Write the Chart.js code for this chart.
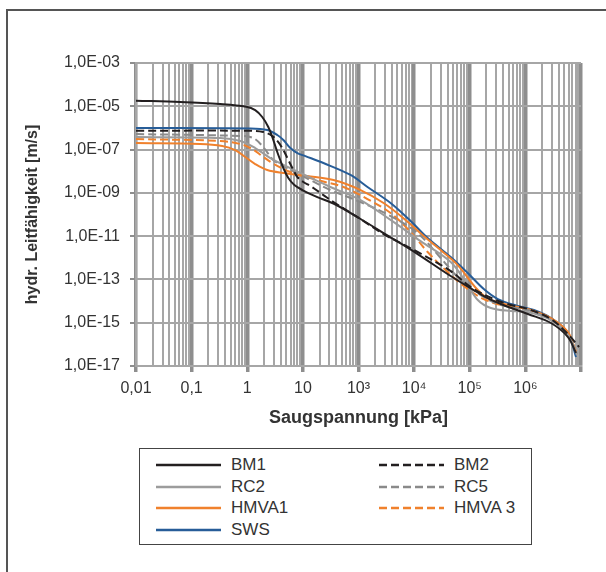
<!DOCTYPE html>
<html>
<head>
<meta charset="utf-8">
<script src="https://cdn.jsdelivr.net/npm/chart.js@4.4.0/dist/chart.umd.min.js"></script>
<style>
    html, body { margin: 0; padding: 0; background: #fff; }
    body { width: 606px; height: 572px; position: relative; overflow: hidden; font-family: "Liberation Sans", Arial, sans-serif; }
    #frame { position: absolute; left: 6px; top: 9px; width: 660px; height: 660px; border: 2px solid #555; }
    #wrap { position: absolute; left: 0; top: 0; width: 606px; height: 572px; }
    #legend { position: absolute; left: 139px; top: 448px; width: 393px; height: 97px; border: 1.5px solid #444;
              box-sizing: border-box; padding: 5px 0 0 16px; display: grid; grid-template-columns: 223px auto;
              grid-auto-rows: 21.7px; font-size: 17px; color: #333; background: #fff; }
    .item { display: flex; align-items: center; white-space: nowrap; }
    .item svg { margin-right: 10px; }
</style>
</head>
<body>
<div id="frame"></div>
<div id="wrap"><canvas id="chart"></canvas></div>
<div id="legend"></div>
<script>
// Saugspannung [kPa] vs. hydr. Leitfähigkeit [m/s]
const bm1 = [[0.01, 1.81e-5], [0.0621, 1.58e-5], [0.327, 1.27e-5], [0.96, 9.6e-6], [1.39, 6.7e-6], [1.86, 3.2e-6],
    [2.39, 1.1e-6], [2.94, 2.77e-7], [3.62, 5.6e-8], [4.46, 1.41e-8], [5.48, 4.85e-9], [7.03, 2.3e-9],
    [9.79, 1.35e-9], [18.2, 6.4e-10], [38.5, 2.9e-10], [109, 6.2e-11], [282, 1.39e-11], [1156, 1.49e-12],
    [4545, 1.44e-13], [17870, 1.71e-14], [36200, 7.3e-15], [111000, 2.52e-15], [288000, 9.7e-16],
    [583000, 2.18e-16], [813000, 4.0e-17]];
const bm2 = [[0.01, 7.4e-7], [0.96, 7.4e-7], [1.94, 6.5e-7], [2.82, 4.24e-7], [3.62, 2.23e-7], [4.46, 9.5e-8],
    [5.48, 3.3e-8], [6.75, 1.14e-8], [7.96, 5.4e-9], [10.2, 3.17e-9], [13.6, 2.07e-9], [23.4, 7.9e-10],
    [35.5, 3.77e-10], [109, 6.2e-11], [282, 1.25e-11], [1156, 1.85e-12], [4545, 2.44e-13], [10420, 4.45e-14],
    [27000, 1.24e-14], [54800, 6.6e-15], [111000, 4.3e-15], [288000, 1.48e-15], [583000, 3.0e-16],
    [920000, 7.5e-17]];
const rc2 = [[0.01, 3.8e-7], [0.327, 3.42e-7], [0.75, 2.49e-7], [1.39, 1.18e-7], [2.6, 4.07e-8], [9.02, 8.3e-9],
    [31.3, 1.86e-9], [109, 4.67e-10], [377, 5.6e-11], [1309, 5.9e-12], [4545, 6.4e-13], [8470, 7.6e-14],
    [13940, 1.12e-14], [23900, 4.8e-15], [54800, 3.47e-15], [111000, 3.12e-15], [288000, 1.33e-15],
    [583000, 2.7e-16], [847000, 3.2e-17]];
const rc5 = [[0.01, 5.2e-7], [0.75, 4.24e-7], [1.28, 3.42e-7], [1.94, 1.31e-7], [2.94, 3.3e-8], [5.26, 1.41e-8],
    [13.6, 3.9e-9], [31.3, 1.35e-9], [109, 3.77e-10], [377, 8.5e-11], [1156, 1.39e-11], [3000, 9.8e-13],
    [6890, 9.4e-14], [17870, 1.54e-14], [36200, 6.6e-15], [111000, 3.86e-15], [288000, 1.33e-15],
    [583000, 2.7e-16], [847000, 3.57e-17]];
const hmva1 = [[0.01, 2.0e-7], [0.142, 1.81e-7], [0.355, 1.46e-7], [0.608, 9.5e-8], [0.92, 4.53e-8], [1.39, 2.15e-8],
    [2.29, 1.14e-8], [4.46, 8.3e-9], [12.0, 6.0e-9], [35.5, 3.9e-9], [109, 1.35e-9], [282, 3.4e-10],
    [703, 5.6e-11], [1483, 1.01e-11], [3000, 2.29e-12], [6080, 4.6e-13], [13940, 3.24e-14], [23900, 1.12e-14],
    [73300, 5.3e-15], [142000, 3.47e-15], [288000, 1.64e-15], [583000, 3.7e-16], [813000, 4.4e-17]];
const hmva3 = [[0.01, 3.08e-7], [0.327, 2.49e-7], [0.75, 1.81e-7], [1.23, 1.06e-7], [1.86, 5.0e-8], [2.82, 2.39e-8],
    [5.96, 9.2e-9], [18.2, 3.9e-9], [53.7, 1.86e-9], [145, 5.2e-10], [377, 1.17e-10], [865, 1.55e-11],
    [1750, 1.85e-12], [4015, 2.2e-13], [9200, 3.6e-14], [17870, 1.24e-14], [36200, 6.6e-15], [73300, 5.3e-15],
    [142000, 3.47e-15], [288000, 1.48e-15], [583000, 3.0e-16], [847000, 3.57e-17]];
const sws = [[0.01, 9.9e-7], [1.13, 9.4e-7], [2.29, 8.0e-7], [3.47, 4.71e-7], [4.46, 2.77e-7], [5.96, 1.18e-7],
    [7.96, 6.9e-8], [11.1, 5.0e-8], [23.4, 2.39e-8], [71.8, 6.7e-9], [145, 1.86e-9], [377, 3.4e-10],
    [865, 5.0e-11], [1750, 8.2e-12], [4545, 1.08e-12], [9200, 1.98e-13], [17870, 3.6e-14], [32000, 1.24e-14],
    [73300, 5.9e-15], [142000, 3.86e-15], [288000, 1.65e-15], [583000, 3.33e-16], [813000, 2.6e-17]];

// axis labels (the original labels its decades this way)
const xTickLabels = ['0,01', '0,1', '1', '10', '10³', '10⁴', '10⁵', '10⁶', ''];
const yTickValues = [1e-17, 1e-15, 1e-13, 1e-11, 1e-9, 1e-7, 1e-5, 1e-3];
const yTickLabels = ['1,0E-17', '1,0E-15', '1,0E-13', '1,0E-11', '1,0E-09', '1,0E-07', '1,0E-05', '1,0E-03'];

const GRID = '#a6a6a6';
const GRID_MAJOR = '#8e8e8e';

function isDecade(v) {
    const l = Math.log10(v);
    return Math.abs(l - Math.round(l)) < 1e-6;
}

// gridlines on 1..9 of every decade between 0.01 and 1e6
function xGridTicks() {
    const ticks = [];
    for (let e = -2; e < 6; e++) {
        for (let m = 1; m < 10; m++) ticks.push({ value: m * Math.pow(10, e) });
    }
    ticks.push({ value: 1e6 });
    return ticks;
}

function series(label, points, color, dashed) {
    return {
        label: label,
        data: points.map(p => ({ x: p[0], y: p[1] })),
        borderColor: color,
        backgroundColor: color,
        borderWidth: 2,
        borderDash: dashed ? [8, 4] : [],
        pointRadius: 0,
        tension: 0.35,
        fill: false
    };
}

Chart.defaults.font.family = '"Liberation Sans", Arial, sans-serif';
Chart.defaults.color = '#333';

const chart = new Chart(document.getElementById('chart'), {
    type: 'line',
    data: {
        datasets: [
            series('BM1', bm1, '#231f20', false),
            series('BM2', bm2, '#231f20', true),
            series('RC2', rc2, '#9c9c9c', false),
            series('RC5', rc5, '#8a8a8a', true),
            series('HMVA1', hmva1, '#f0812c', false),
            series('HMVA 3', hmva3, '#f0812c', true),
            series('SWS', sws, '#275d98', false)
        ]
    },
    options: {
        responsive: true,
        maintainAspectRatio: false,
        animation: false,
        layout: { padding: { left: 19, top: 63, right: 25, bottom: 139 } },
        plugins: {
            legend: { display: false },
            tooltip: { enabled: false }
        },
        scales: {
            x: {
                type: 'logarithmic',
                min: 0.01,
                max: 1e6,
                afterBuildTicks: scale => { scale.ticks = xGridTicks(); },
                afterFit: scale => { scale.height = 67; },
                grid: {
                    color: ctx => (ctx.tick && isDecade(ctx.tick.value)) ? GRID_MAJOR : GRID,
                    lineWidth: ctx => (ctx.tick && isDecade(ctx.tick.value)) ? 3.5 : 2,
                    tickColor: ctx => (ctx.tick && isDecade(ctx.tick.value)) ? GRID_MAJOR : 'rgba(0,0,0,0)',
                    tickLength: 6
                },
                border: { display: true, color: GRID, width: 2 },
                ticks: {
                    autoSkip: false,
                    maxRotation: 0,
                    padding: 7,
                    font: { size: 16 },
                    color: '#333',
                    callback: value => isDecade(value) ? xTickLabels[Math.round(Math.log10(value)) + 2] : ''
                },
                title: {
                    display: true,
                    text: 'Saugspannung [kPa]',
                    font: { size: 18, weight: 'bold' },
                    color: '#333'
                }
            },
            y: {
                type: 'logarithmic',
                min: 1e-17,
                max: 1e-3,
                afterBuildTicks: scale => { scale.ticks = yTickValues.map(v => ({ value: v })); },
                afterFit: scale => { scale.width = 117; },
                grid: { color: GRID, lineWidth: 2, tickLength: 6, tickColor: GRID_MAJOR },
                border: { display: true, color: GRID, width: 2 },
                ticks: {
                    padding: 10,
                    font: { size: 16 },
                    color: '#333',
                    callback: value => {
                        const i = yTickValues.findIndex(v => Math.abs(Math.log10(v) - Math.log10(value)) < 1e-6);
                        return i >= 0 ? yTickLabels[i] : '';
                    }
                },
                title: {
                    display: true,
                    text: 'hydr. Leitfähigkeit [m/s]',
                    font: { size: 16, weight: 'bold' },
                    color: '#333'
                }
            }
        }
    }
});

// legend box in two columns, like the original
const legendEl = document.getElementById('legend');
chart.data.datasets.forEach(ds => {
    const item = document.createElement('div');
    item.className = 'item';
    const dash = ds.borderDash.length ? ' stroke-dasharray="' + ds.borderDash.join(' ') + '"' : '';
    item.innerHTML = '<svg width="65" height="4"><line x1="0" y1="2" x2="65" y2="2" stroke="' + ds.borderColor +
        '" stroke-width="2.5"' + dash + '/></svg><span>' + ds.label + '</span>';
    legendEl.appendChild(item);
});
</script>
</body>
</html>
